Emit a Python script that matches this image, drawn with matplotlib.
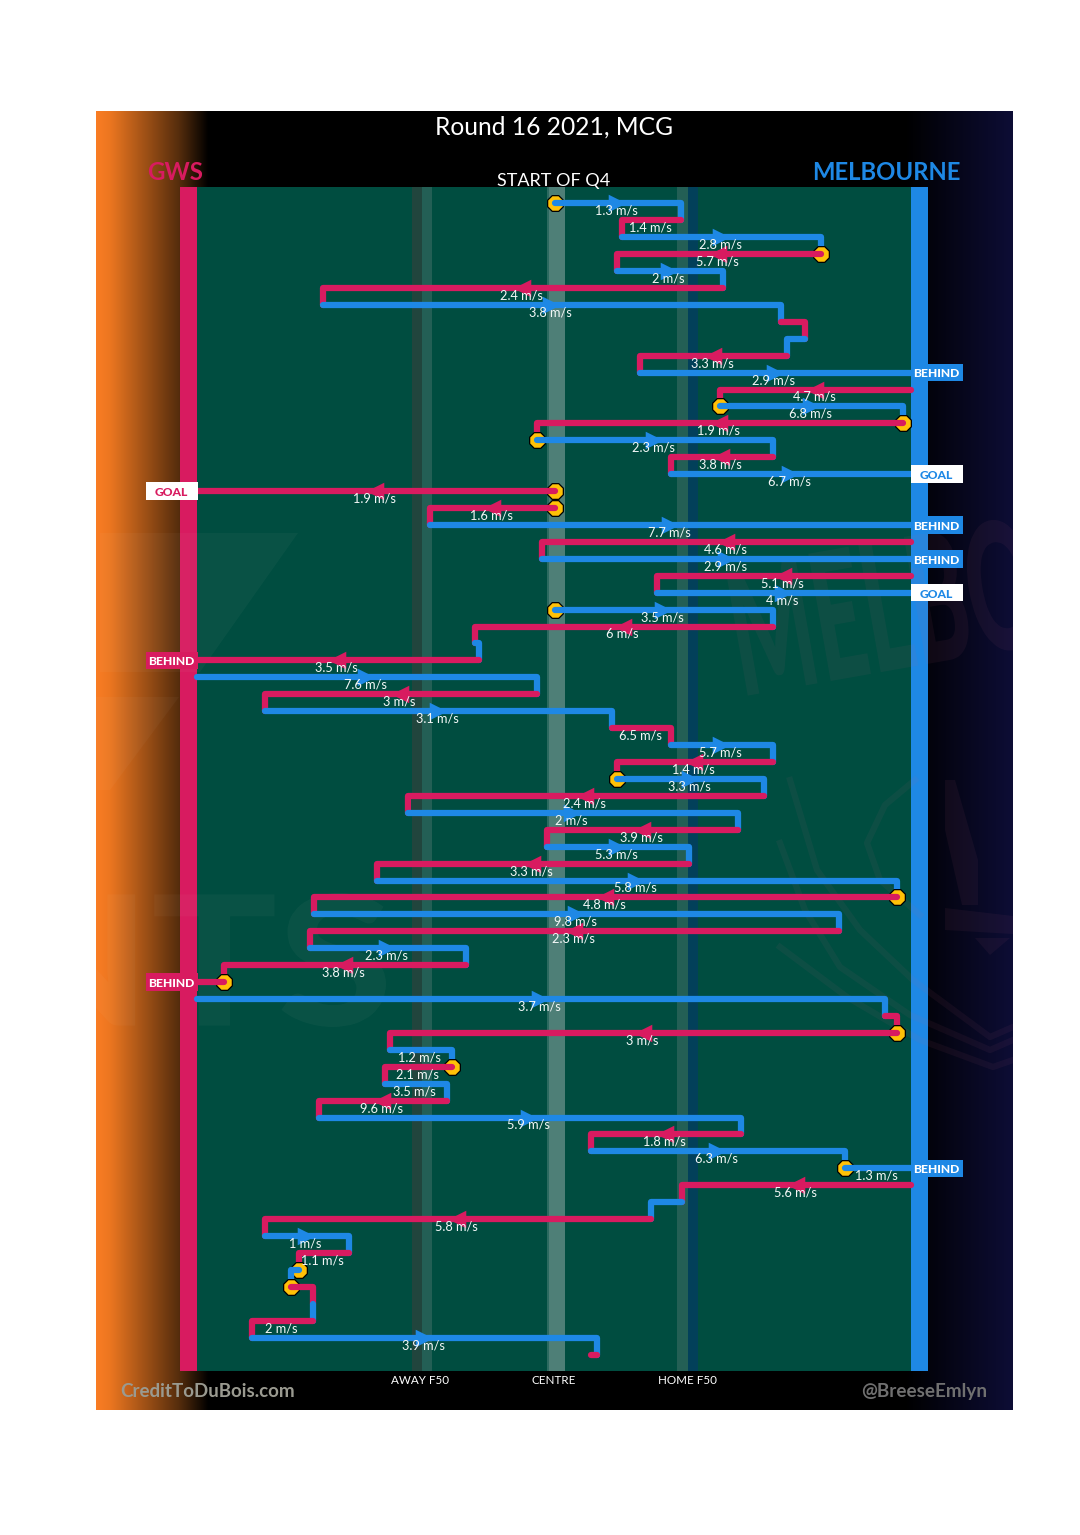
import numpy as np
import matplotlib
matplotlib.use("Agg")
import matplotlib.pyplot as plt
from matplotlib.font_manager import FontProperties
from matplotlib.patches import PathPatch, Polygon, Rectangle
from matplotlib.textpath import TextPath
from matplotlib.transforms import Affine2D

plt.rcParams['font.family'] = ['Lato', 'DejaVu Sans']

PINK = "#D81B60"
BLUE = "#1E88E5"
YELLOW = "#FFC107"
FIELD = "#004D40"

# one entry per passage of play, top to bottom. G = GWS, M = Melbourne
teams = ["M","G","M","G","M","G","M","G","M","G","M","G","M","G","M","G","M","G","G","M",
         "G","M","G","M","M","G","M","G","M","G","M","G","M","G","M","G","M","G","M","G",
         "M","G","M","G","M","G","G","M","G","G","M","G","M","G","M","G","M","M","G","M",
         "G","M","G","M","G","M","G","M","G"]
x_start = [555,681,622,821,617,723,323,781,805,787,640,911,720,903,537,773,671,555,555,430,
           911,542,911,657,555,773,475,479,197,537,265,612,671,773,617,764,408,738,547,689,
           377,897,314,839,310,466,224,197,885,897,390,452,385,447,319,741,591,845,911,682,
           651,265,349,299,291,313,313,252,597]
x_end = [681,622,821,617,723,323,781,805,787,640,911,720,903,537,773,671,911,197,430,911,
         542,911,657,911,773,475,479,197,537,265,612,671,773,617,764,408,738,547,689,377,
         897,314,839,310,466,224,197,885,897,390,452,385,447,319,741,591,845,911,682,651,
         265,349,299,291,313,313,252,597,591]
speeds = [1.3,1.4,2.8,5.7,2,2.4,3.8,None,None,3.3,2.9,4.7,6.8,1.9,2.3,3.8,6.7,1.9,1.6,7.7,
          4.6,2.9,5.1,4,3.5,6,None,3.5,7.6,3,3.1,6.5,5.7,1.4,3.3,2.4,2,3.9,5.3,3.3,
          5.8,4.8,9.8,2.3,2.3,3.8,None,3.7,None,3,1.2,2.1,3.5,9.6,5.9,1.8,6.3,1.3,5.6,None,
          5.8,1,1.1,None,None,None,2,3.9,None]
# rows where the chain jumps to the next row without a vertical link
breaks = [10,16,17,19,21,23,27,46,57,68]
# rows starting from a stoppage
stoppages = [0,3,12,13,14,17,18,24,34,41,46,49,51,57,63,64]
# scoring shots
score_rows = [10,16,19,21,23,57,17,27,46]
score_text = ["BEHIND","GOAL","BEHIND","BEHIND","GOAL","BEHIND","GOAL","BEHIND","BEHIND"]
score_team = ["M","M","M","M","M","M","G","G","G"]

field_labels = ["AWAY F50", "CENTRE", "HOME F50"]
field_label_x = [420, 554, 687]

ROW_PX = 16.93
ROW0_PX = 203.3

fig = plt.figure(figsize=(10.8, 15.35), dpi=100, facecolor="white")
rect = [96/1080, (1535-1410)/1535, 917/1080, 1299/1535]

# backdrop in pixel coordinates
bg = fig.add_axes(rect)
bg.axis("off")

grad_x = np.arange(96, 1014)
grad_stops = [96, 110, 180, 208, 905, 1013]
r = np.interp(grad_x, grad_stops, [250, 235, 82, 0, 0, 13])
g = np.interp(grad_x, grad_stops, [125, 118, 43, 0, 0, 13])
b = np.interp(grad_x, grad_stops, [36, 32, 12, 0, 0, 53])
grad = np.dstack([r, g, b]).reshape(1, -1, 3) / 255
bg.imshow(grad, extent=(96, 1013, 1410, 111), aspect="auto", interpolation="bilinear", zorder=0)
bg.set_xlim(96, 1013)
bg.set_ylim(1410, 111)


def box(ax, x0, x1, y0, y1, color, z=1):
    ax.add_patch(Rectangle((x0, y0), x1-x0, y1-y0, facecolor=color, edgecolor="none", zorder=z))


box(bg, 197, 911, 187, 1371, FIELD)
box(bg, 412, 422, 187, 1371, "#21453D", 2)
box(bg, 422, 432, 187, 1371, "#235F55", 2)
box(bg, 547, 549, 187, 1371, "#2C6A60", 2)
box(bg, 549, 565, 187, 1371, "#4E7F77", 2)
box(bg, 677, 688, 187, 1371, "#235F55", 2)
box(bg, 688, 698, 187, 1371, "#02405A", 2)
box(bg, 180, 197, 187, 1371, PINK, 3)
box(bg, 911, 928, 187, 1371, BLUE, 3)

# faint club logos behind everything
logo_font = FontProperties(family="Lato", weight="black")
GIANTS_MARK = "#E8E0D0"
DEES_MARK = "#C06080"


def logo_text(s, x0, x1, base, top, angle=0, alpha=0.04, color=GIANTS_MARK):
    tp = TextPath((0, 0), s, size=100, prop=logo_font)
    ext = tp.get_extents()
    tr = (Affine2D().translate(-ext.x0, -ext.y0)
          .scale((x1-x0)/ext.width, -(base-top)/ext.height)
          .rotate_deg(angle).translate(x0, base))
    bg.add_patch(PathPatch(tp.transformed(tr), facecolor=color, edgecolor="none", alpha=alpha, zorder=4))


logo_text("NTS", 5, 386, 1027, 893)
logo_text("MELBO", 748, 1050, 697, 565, angle=-10, alpha=0.07, color=DEES_MARK)
bg.add_patch(Polygon([(100, 533), (298, 533), (200, 672), (100, 672)], facecolor=GIANTS_MARK, alpha=0.04, zorder=4))
bg.add_patch(Polygon([(96, 697), (179, 697), (110, 790), (96, 790)], facecolor=GIANTS_MARK, alpha=0.04, zorder=4))

shield_lines = [
    [(790, 780), (817, 870), (860, 930), (913, 980), (990, 1037), (1013, 1027)],
    [(780, 843), (805, 910), (840, 967), (910, 1015), (990, 1050), (1013, 1040)],
    [(780, 947), (847, 997), (920, 1040), (993, 1067), (1013, 1060)],
    [(915, 780), (885, 805), (867, 843), (880, 880), (920, 915)],
]
for line in shield_lines:
    lx, ly = zip(*line)
    bg.plot(lx, ly, color=DEES_MARK, alpha=0.07, lw=4.5, zorder=4)
bg.add_patch(Polygon([(945, 908), (1013, 916), (1013, 934), (945, 930)], facecolor=DEES_MARK, alpha=0.07, zorder=4))
bg.add_patch(Polygon([(975, 938), (1010, 938), (990, 955)], facecolor=DEES_MARK, alpha=0.07, zorder=4))
bg.add_patch(Polygon([(945, 780), (955, 780), (978, 860), (978, 905), (962, 905), (945, 830)], facecolor=DEES_MARK, alpha=0.07, zorder=4))

# passages drawn through a row scale on top of the backdrop
ax = fig.add_axes(rect, facecolor="none")
ax.set_xlim(96, 1013)
ax.set_ylim((1410-ROW0_PX)/ROW_PX, (111-ROW0_PX)/ROW_PX)
ax.axis("off")

z = 10
for i, (team, x0, x1) in enumerate(zip(teams, x_start, x_end)):
    col = PINK if team == "G" else BLUE
    if i in stoppages:
        ax.scatter([x0], [i], s=150, marker="8", facecolor=YELLOW, edgecolor="black", linewidth=0.9, zorder=z)
        z += 1
    xs = [x0, x1]
    ys = [i, i]
    if i not in breaks:
        xs.append(x1)
        ys.append(i+1)
    ax.plot(xs, ys, color=col, lw=4.5, solid_capstyle="round", solid_joinstyle="round", zorder=z)
    z += 1
    if speeds[i] is not None:
        mid = (x0+x1)/2
        if abs(x1-x0) > 70:
            ax.scatter([mid-1], [i], s=160, marker=">" if x1 > x0 else "<", color=col, linewidth=0, zorder=z)
            z += 1
        ax.text(mid-1.5, i+0.44, f"{speeds[i]} m/s", color="#F4F8F8", fontsize=9.2, ha="center", va="center", zorder=500)

for row, txt, team in zip(score_rows, score_text, score_team):
    col = PINK if team == "G" else BLUE
    left = team == "G"
    x0, x1 = (146, 198) if left else (911, 963)
    bg_col = "white" if txt == "GOAL" else col
    fg_col = col if txt == "GOAL" else "white"
    box(ax, x0, x1, row-0.52, row+0.52, bg_col, 400)
    ax.text((x0+x1)/2-1, row+0.08, txt, color=fg_col, fontsize=8.7, fontweight="black",
            ha="center", va="center", zorder=500)

# titles and captions placed in pixels on the backdrop
fig_text = dict(ha="center", va="center", zorder=600)
bg.text(554, 127, "Round 16 2021, MCG", color="white", fontsize=17.7, **fig_text)
bg.text(554, 181, "START OF Q4", color="white", fontsize=13, **fig_text)
bg.text(175, 172, "GWS", color=PINK, fontsize=17.3, fontweight="bold", **fig_text)
bg.text(886, 172, "MELBOURNE", color=BLUE, fontsize=17.2, fontweight="bold", **fig_text)
for lab, lx in zip(field_labels, field_label_x):
    bg.text(lx, 1381, lab, color="white", fontsize=8.4, **fig_text)
bg.text(208, 1392, "CreditToDuBois.com", color="#9A9A90", fontsize=13.5, fontweight="bold", **fig_text)
bg.text(924, 1392, "@BreeseEmlyn", color="#707070", fontsize=13.6, fontweight="bold", **fig_text)

fig.savefig("out.png", dpi=100, facecolor="white")
